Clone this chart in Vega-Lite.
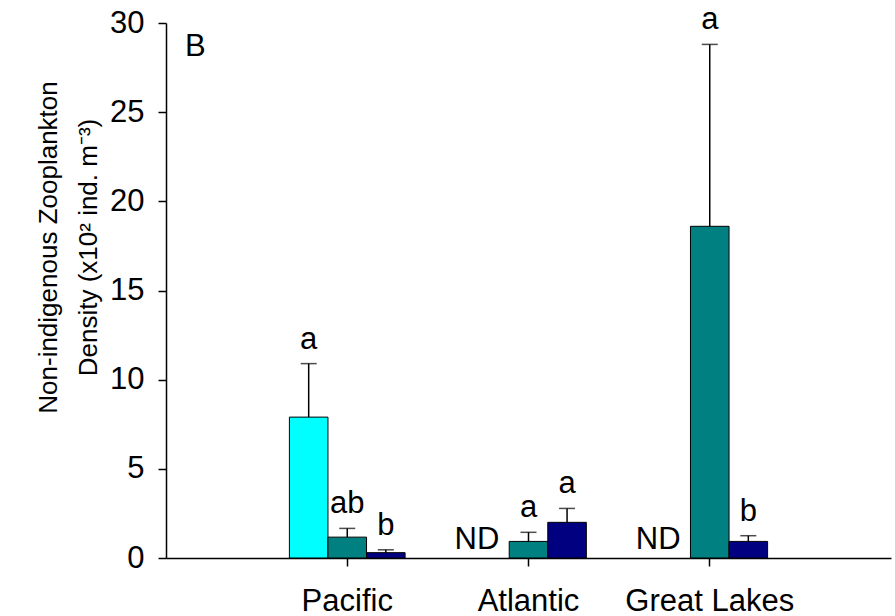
{
  "$schema": "https://vega.github.io/schema/vega-lite/v6.json",
  "width": 725,
  "height": 535,
  "autosize": {"type": "none"},
  "padding": {"left": 166, "top": 23, "right": 4, "bottom": 58},
  "background": "white",
  "config": {
    "view": {"stroke": null},
    "font": "Liberation Sans",
    "axis": {
      "grid": false,
      "domainColor": "black",
      "tickColor": "black",
      "labelColor": "black",
      "titleColor": "black",
      "domainWidth": 1.5,
      "tickWidth": 1.5,
      "labelFont": "Liberation Sans",
      "titleFont": "Liberation Sans",
      "labelFontSize": 31,
      "titleFontSize": 26,
      "titleFontWeight": "normal",
      "tickSize": 8
    }
  },
  "title": {
    "text": "B",
    "anchor": "start",
    "frame": "group",
    "orient": "top",
    "offset": -83,
    "dx": 19,
    "baseline": "alphabetic",
    "fontSize": 31,
    "fontWeight": "normal",
    "font": "Liberation Sans",
    "color": "black"
  },
  "datasets": {
    "bars": [
      {"region": "Pacific", "series": "Series 1", "value": 7.9, "upper": 10.9, "letter": "a"},
      {"region": "Pacific", "series": "Series 2", "value": 1.17, "upper": 1.66, "letter": "ab"},
      {"region": "Pacific", "series": "Series 3", "value": 0.3, "upper": 0.46, "letter": "b"},
      {"region": "Atlantic", "series": "Series 2", "value": 0.93, "upper": 1.44, "letter": "a"},
      {"region": "Atlantic", "series": "Series 3", "value": 2.0, "upper": 2.78, "letter": "a"},
      {"region": "Great Lakes", "series": "Series 2", "value": 18.6, "upper": 28.8, "letter": "a"},
      {"region": "Great Lakes", "series": "Series 3", "value": 0.93, "upper": 1.25, "letter": "b"}
    ],
    "nd": [
      {"region": "Atlantic", "series": "Series 1", "label": "ND"},
      {"region": "Great Lakes", "series": "Series 1", "label": "ND"}
    ]
  },
  "layer": [
    {
      "data": {"name": "bars"},
      "mark": {"type": "bar", "stroke": "black", "strokeWidth": 1},
      "encoding": {
        "x": {
          "field": "region",
          "type": "nominal",
          "sort": ["Pacific", "Atlantic", "Great Lakes"],
          "scale": {"domain": ["Pacific", "Atlantic", "Great Lakes"], "paddingInner": 0, "paddingOuter": 0.5},
          "axis": {"title": null, "labelAngle": 0, "labelPadding": 20, "labelBaseline": "top"}
        },
        "xOffset": {
          "field": "series",
          "type": "nominal",
          "scale": {"domain": ["Series 1", "Series 2", "Series 3"], "paddingInner": 0, "paddingOuter": 0.85}
        },
        "y": {
          "field": "value",
          "type": "quantitative",
          "scale": {"domain": [0, 30], "nice": false},
          "axis": {
            "title": ["Non-indigenous Zooplankton", "Density (x10² ind. m⁻³)"],
            "values": [0, 5, 10, 15, 20, 25, 30],
            "labelPadding": 14,
            "titlePadding": 8,
            "titleY": 224,
            "titleLineHeight": 40
          }
        },
        "color": {
          "field": "series",
          "type": "nominal",
          "scale": {"domain": ["Series 1", "Series 2", "Series 3"], "range": ["#00FFFF", "#008080", "#000080"]},
          "legend": null
        }
      }
    },
    {
      "data": {"name": "bars"},
      "mark": {"type": "rule", "color": "black", "strokeWidth": 1.5},
      "encoding": {
        "x": {"field": "region", "type": "nominal", "sort": ["Pacific", "Atlantic", "Great Lakes"]},
        "xOffset": {"field": "series", "type": "nominal"},
        "y": {"field": "value", "type": "quantitative"},
        "y2": {"field": "upper"}
      }
    },
    {
      "data": {"name": "bars"},
      "mark": {"type": "tick", "color": "black", "thickness": 1.5, "size": 16},
      "encoding": {
        "x": {"field": "region", "type": "nominal", "sort": ["Pacific", "Atlantic", "Great Lakes"]},
        "xOffset": {"field": "series", "type": "nominal"},
        "y": {"field": "upper", "type": "quantitative"}
      }
    },
    {
      "data": {"name": "bars"},
      "mark": {"type": "text", "fontSize": 31, "baseline": "alphabetic", "dy": -15, "color": "black", "font": "Liberation Sans"},
      "encoding": {
        "x": {"field": "region", "type": "nominal", "sort": ["Pacific", "Atlantic", "Great Lakes"]},
        "xOffset": {"field": "series", "type": "nominal"},
        "y": {"field": "upper", "type": "quantitative"},
        "text": {"field": "letter"}
      }
    },
    {
      "data": {"name": "nd"},
      "mark": {"type": "text", "fontSize": 31, "baseline": "alphabetic", "dy": -9, "dx": -13, "color": "black", "font": "Liberation Sans"},
      "encoding": {
        "x": {"field": "region", "type": "nominal", "sort": ["Pacific", "Atlantic", "Great Lakes"]},
        "xOffset": {"field": "series", "type": "nominal"},
        "y": {"datum": 0, "type": "quantitative"},
        "text": {"field": "label"}
      }
    }
  ]
}
